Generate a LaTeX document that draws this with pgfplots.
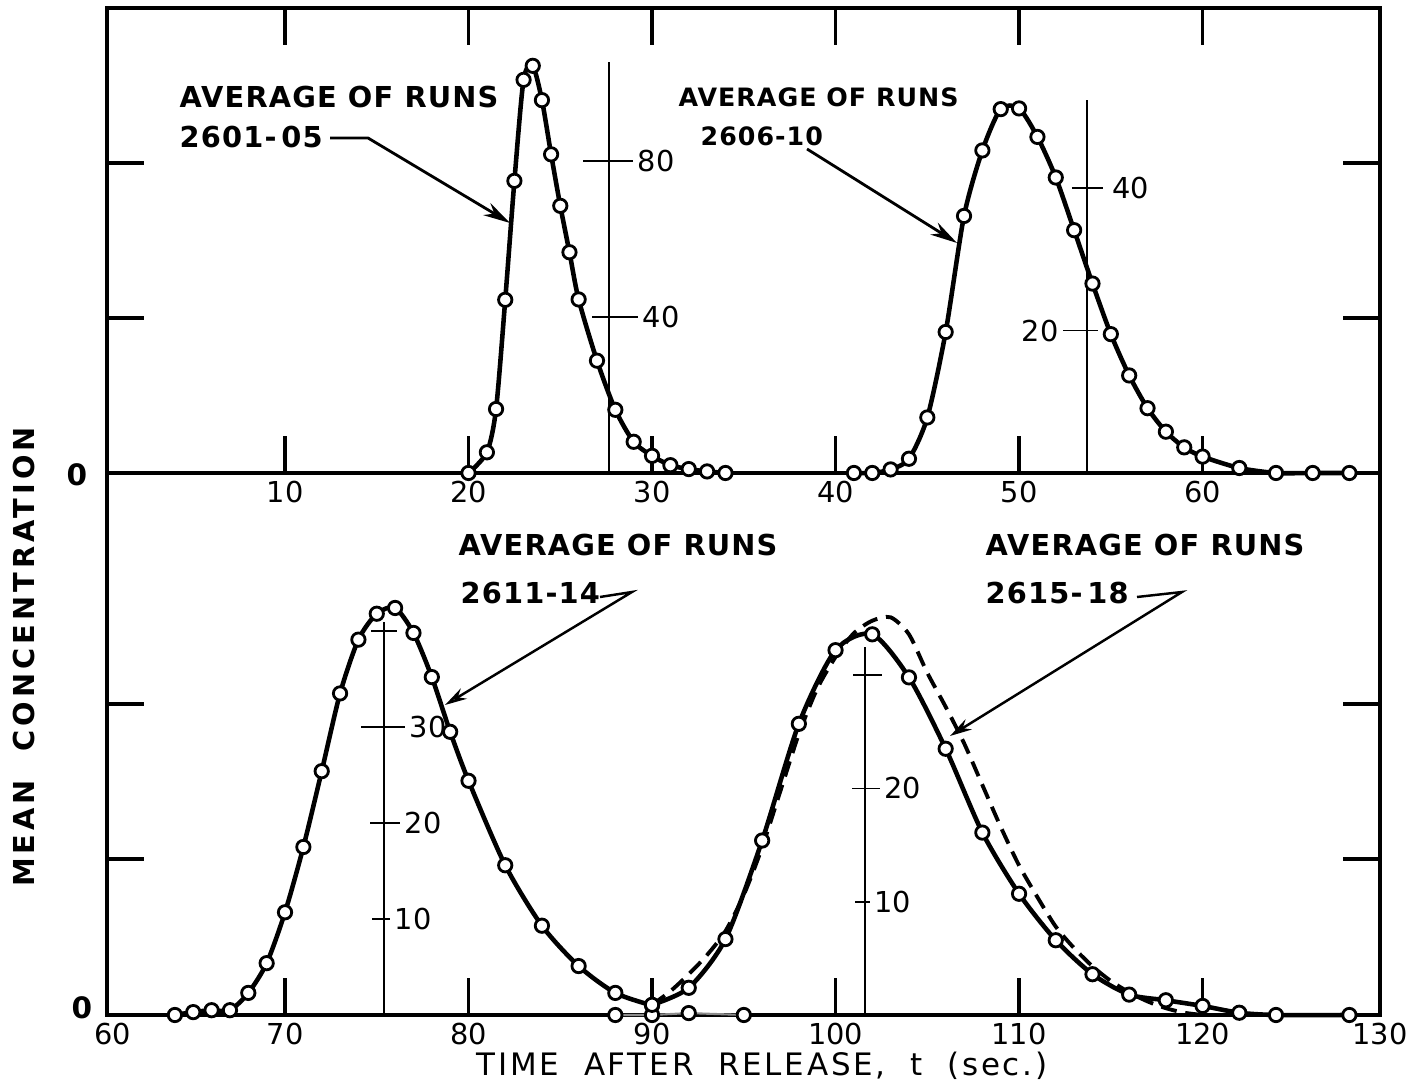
\documentclass[border=0pt]{standalone}
\usepackage{fontspec}
\setmainfont{DejaVu Sans}
\newfontfamily\lett[LetterSpace=4]{DejaVu Sans}
\newfontfamily\wide[LetterSpace=9]{DejaVu Sans}
\newfontfamily\widey[LetterSpace=14]{DejaVu Sans}
\usepackage{pgfplots}
\pgfplotsset{compat=1.18}
\usetikzlibrary{arrows.meta}

\pgfplotsset{
  panel/.style={scale only axis, width=12.73cm, anchor=south west, clip=false},
  frame/.style={panel,
    axis line style={line width=1pt},
    tick align=inside, major tick length=0.37cm,
    every tick/.style={black, line width=1pt},
    yticklabels={},
    /pgf/number format/assume math mode=true,
    xticklabel style={font=\fontsize{8.2}{9}\selectfont, inner sep=1pt,
      yshift=-0.04cm}},
  curve/.style={panel, hide axis, ymin=0},
}
\tikzset{
  run/.style={black, line width=1.3pt, smooth, tension=0.45,
    mark=*, mark size=1.9pt,
    mark options={fill=white, draw=black, line width=0.8pt, solid}},
  mini/.style={black, line width=0.5pt},
  lab/.style={font=\fontsize{8.2}{9}\selectfont, inner sep=1pt},
  ann/.style={font=\lett\bfseries\fontsize{8.2}{10}\selectfont, inner sep=0pt},
}
% tick on a small inner scale: x, y, length left, length right, label
\newcommand{\mtick}[5]{%
  \draw[mini] ([xshift=-#3]axis cs:#1,#2) -- ([xshift=#4]axis cs:#1,#2)
    node[lab,right]{#5};}

\begin{document}
\begin{tikzpicture}
\path[use as bounding box] (-1.07,-0.71) rectangle (13.08,10.15);

% ---- frames -------------------------------------------------------
\begin{axis}[frame, at={(0,5.42cm)}, height=4.65cm,
  xmin=0.3, xmax=69.67, ymin=0, ymax=465,
  xtick={10,20,...,60}, ytick={155,310}]
\end{axis}

\begin{axis}[frame, at={(0,0)}, height=5.42cm,
  xmin=60.3, xmax=129.67, ymin=0, ymax=542,
  xtick={70,80,...,120}, xtick pos=left, ytick={156,311},
  extra x ticks={60.6,129.67}, extra x tick labels={60,130},
  extra x tick style={major tick length=0pt}]
\end{axis}

% ---- runs 2601-05 -------------------------------------------------
\begin{axis}[curve, at={(0,5.42cm)}, height=4.65cm,
  xmin=0.3, xmax=69.67, ymax=119.23]
\addplot[run] coordinates {
  (20,0) (21,5.3) (21.5,16.4) (22,44.4) (22.5,74.9) (23,100.8)
  (23.5,104.4) (24,95.6) (24.5,81.7) (25,68.5) (25.5,56.6) (26,44.5)
  (27,28.8) (28,16.2) (29,8.0) (30,4.4) (31,2.0) (32,1.0) (33,0.4) (34,0)
};
\draw[mini] (axis cs:27.67,0) -- (axis cs:27.67,105.5);
\mtick{27.67}{80}{0.26cm}{0.24cm}{80}
\mtick{27.67}{40}{0.17cm}{0.29cm}{40}
\end{axis}

% ---- runs 2606-10 -------------------------------------------------
\begin{axis}[curve, at={(0,5.42cm)}, height=4.65cm,
  xmin=0.3, xmax=69.67, ymax=65.31]
\addplot[run] coordinates {
  (41,0) (42,0) (43,0.5) (44,2.0) (45,7.8) (46,19.8) (47,36.1) (48,45.3)
  (49,51.1) (50,51.2) (51,47.2) (52,41.5) (53,34.1) (54,26.6) (55,19.5)
  (56,13.7) (57,9.1) (58,5.8) (59,3.6) (60,2.3) (62,0.7) (64,0) (66,0) (68,0)
};
\draw[mini] (axis cs:53.69,0) -- (axis cs:53.69,52.4);
\mtick{53.69}{40}{0.15cm}{0.16cm}{\hspace{0.05cm}40}
\draw[mini] ([xshift=0.11cm]axis cs:53.69,20) -- ([xshift=-0.24cm]axis cs:53.69,20)
  node[lab,left]{20};
\end{axis}

% ---- runs 2611-14 -------------------------------------------------
\begin{axis}[curve, at={(0,0)}, height=5.42cm,
  xmin=60.3, xmax=129.67, ymax=56.46]
\addplot[run] coordinates {
  (64,0) (65,0.3) (66,0.5) (67,0.5) (68,2.3) (69,5.4) (70,10.7) (71,17.5)
  (72,25.4) (73,33.5) (74,39.1) (75,41.8) (76,42.4) (77,39.8) (78,35.2)
  (79,29.5) (80,24.4) (82,15.6) (84,9.3) (86,5.1) (88,2.3) (90,1.0)
};
\addplot[black!45, line width=0.6pt, mark=*, mark size=1.9pt,
  mark options={fill=white, draw=black, line width=0.8pt}] coordinates {
  (88,0) (90,0) (92,0.2) (95,0)
};
\draw[mini] (axis cs:75.41,0) -- (axis cs:75.41,40.9);
\mtick{75.41}{40}{0.13cm}{0.13cm}{}
\mtick{75.41}{30}{0.23cm}{0.21cm}{30}
\mtick{75.41}{20}{0.14cm}{0.16cm}{20}
\mtick{75.41}{10}{0.12cm}{0.06cm}{10}
\end{axis}

% ---- runs 2615-18 -------------------------------------------------
\begin{axis}[curve, at={(0,0)}, height=5.42cm,
  xmin=60.3, xmax=129.67, ymax=47.84]
\addplot[black, line width=1.1pt, dash pattern=on 4.5pt off 2.5pt,
  smooth, tension=0.45] coordinates {
  (90,0.9) (91,2.1) (92,3.6) (93,5.3) (94,7.4) (95,10.6) (96,14.8)
  (97,19.8) (98,24.8) (99,28.8) (100,31.6) (101,33.7) (102,34.8)
  (103,35.1) (104,33.6) (105,30.2) (106,27.2) (107,24.0) (108,20.3)
  (109,16.6) (110,13.2) (111,10.4) (112,7.8) (113,5.9) (114,4.3)
  (115,3.0) (116,2.0) (117,1.2) (118,0.6) (119,0.2) (120,0)
};
\addplot[run] coordinates {
  (90,0.9) (92,2.4) (94,6.7) (96,15.4) (98,25.7) (100,32.2) (102,33.6)
  (104,29.8) (106,23.5) (108,16.1) (110,10.7) (112,6.6) (114,3.6)
  (116,1.8) (118,1.3) (120,0.8) (122,0.2) (124,0) (128,0)
};
\draw[mini] (axis cs:101.61,0) -- (axis cs:101.61,32.5);
\mtick{101.61}{30}{0.12cm}{0.17cm}{}
\mtick{101.61}{20}{0.13cm}{0.15cm}{20}
\mtick{101.61}{10}{0.10cm}{0.05cm}{10}
\end{axis}

% ---- annotations --------------------------------------------------
\node[ann, anchor=base west] at (0.72,9.07) {AVERAGE OF RUNS};
\node[ann, anchor=base west] at (0.72,8.67) {2601-\,05};
\draw[line width=0.8pt, -{Stealth[length=0.27cm,width=0.14cm]}]
  (2.23,8.77) -- (2.61,8.77) -- (4.03,7.92);

\node[ann, anchor=base west, font=\lett\bfseries\fontsize{7.2}{9}\selectfont]
  at (5.71,9.08) {AVERAGE OF RUNS};
\node[ann, anchor=base west, font=\lett\bfseries\fontsize{7.2}{9}\selectfont]
  at (5.93,8.69) {2606-10};
\draw[line width=0.8pt, -{Stealth[length=0.27cm,width=0.14cm]}]
  (7.00,8.66) -- (8.50,7.72);

\node[ann, anchor=base west] at (3.51,4.59) {AVERAGE OF RUNS};
\node[ann, anchor=base west] at (3.53,4.11) {2611-14};
\draw[line width=0.7pt, -{Stealth[open,length=0.22cm,width=0.12cm]}]
  (4.93,4.18) -- (5.25,4.23) -- (3.38,3.10);

\node[ann, anchor=base west] at (8.78,4.59) {AVERAGE OF RUNS};
\node[ann, anchor=base west] at (8.78,4.11) {2615-\,18};
\draw[line width=0.7pt, -{Stealth[open,length=0.22cm,width=0.12cm]}]
  (10.30,4.18) -- (10.75,4.23) -- (8.43,2.79);

% ---- zero labels and axis titles -----------------------------------
\node[font=\bfseries\fontsize{8.4}{9}\selectfont] at (-0.30,5.40) {0};
\node[font=\bfseries\fontsize{8.4}{9}\selectfont] at (-0.25,0.07) {0};
\node[font=\wide\fontsize{8.8}{10}\selectfont, inner sep=0pt, anchor=base]
  at (6.55,-0.61)
  {TIME\hspace{0.8em}AFTER\hspace{0.8em}RELEASE,\hspace{0.8em}t\hspace{0.8em}(sec.)};
\node[rotate=90, font=\widey\bfseries\fontsize{8.2}{9}\selectfont] at (-0.83,3.58)
  {MEAN\hspace{1.0em}CONCENTRATION};
\end{tikzpicture}
\end{document}
